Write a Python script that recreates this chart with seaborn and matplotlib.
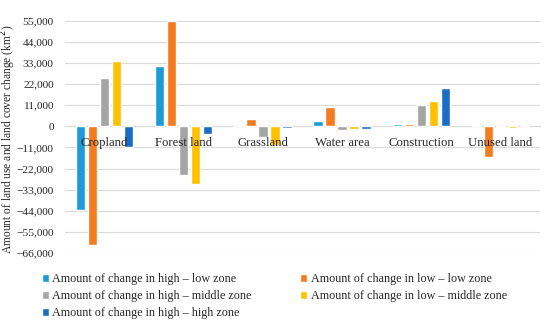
import numpy as np
import pandas as pd
import matplotlib
matplotlib.use("Agg")
import matplotlib.pyplot as plt
import seaborn as sns

# ============================================================
# DATA (km^2)
# ============================================================
categories = ["Cropland", "Forest land", "Grassland", "Water area", "Construction", "Unused land"]
series = [
    "Amount of change in high – low zone",
    "Amount of change in low – low zone",
    "Amount of change in high – middle zone",
    "Amount of change in low – middle zone",
    "Amount of change in high – high zone",
]
high_low = [-43600, 31700, 800, 2600, 1400, 800]
low_low = [-61800, 54700, 3800, 10200, 1200, -15900]
high_middle = [25400, -25300, -5300, -2100, 10900, -200]
low_middle = [34300, -29900, -9900, -1200, 13000, -1100]
high_high = [-10900, -4200, -600, -1400, 20200, 0]
colors = ["#1E9BD7", "#F47B20", "#A5A5A5", "#FFC000", "#1A6DC4"]
yticks = np.arange(-66000, 55001, 11000)

df = pd.DataFrame({
    "category": categories * 5,
    "series": np.repeat(series, len(categories)),
    "value": high_low + low_low + high_middle + low_middle + high_high,
})

# ============================================================
# PLOT
# ============================================================
sns.set_style("white")
plt.rcParams["font.family"] = ["Liberation Serif", "DejaVu Serif"]

fig = plt.figure(figsize=(5.5, 3.21), dpi=100)
ax = fig.add_axes([0.118, 0.212, 0.864, 0.723])

sns.barplot(data=df, x="category", y="value", hue="series", palette=colors,
            saturation=1, width=0.76, gap=0.22, ax=ax, legend=True, zorder=3)

ax.set_ylim(-66000, 55000)
ax.set_yticks(yticks)
ax.set_yticklabels([f"{v:,}".replace("-", "−") for v in yticks], fontsize=8.2)
ax.yaxis.grid(True, color="#D9D9D9", linewidth=0.8)
ax.set_axisbelow(True)
ax.xaxis.set_zorder(5)  # category names sit on top of the bars
ax.set_xlim(-0.5, len(categories) - 0.5)

for s in ["top", "right", "left"]:
    ax.spines[s].set_visible(False)
ax.spines["bottom"].set_position(("data", 0))
ax.spines["bottom"].set_color("#D9D9D9")
ax.spines["bottom"].set_zorder(1)
ax.tick_params(axis="x", length=0, labelsize=9.2, pad=8)
ax.tick_params(axis="y", length=0, pad=8)
ax.set_xlabel("")
ax.set_ylabel("Amount of land use and land cover change (km$^2$)", fontsize=8.3)
ax.yaxis.set_label_coords(-0.098, 0.49)

handles, labels = ax.get_legend_handles_labels()
order = [0, 2, 4, 1, 3]
ax.legend([handles[i] for i in order], [labels[i] for i in order],
          loc="upper left", bbox_to_anchor=(-0.072, -0.04), ncol=2, frameon=False,
          fontsize=8.7, handlelength=0.6, handleheight=0.6, handletextpad=0.3,
          columnspacing=4.0, labelspacing=0.42)

fig.savefig("out.png", dpi=100)
